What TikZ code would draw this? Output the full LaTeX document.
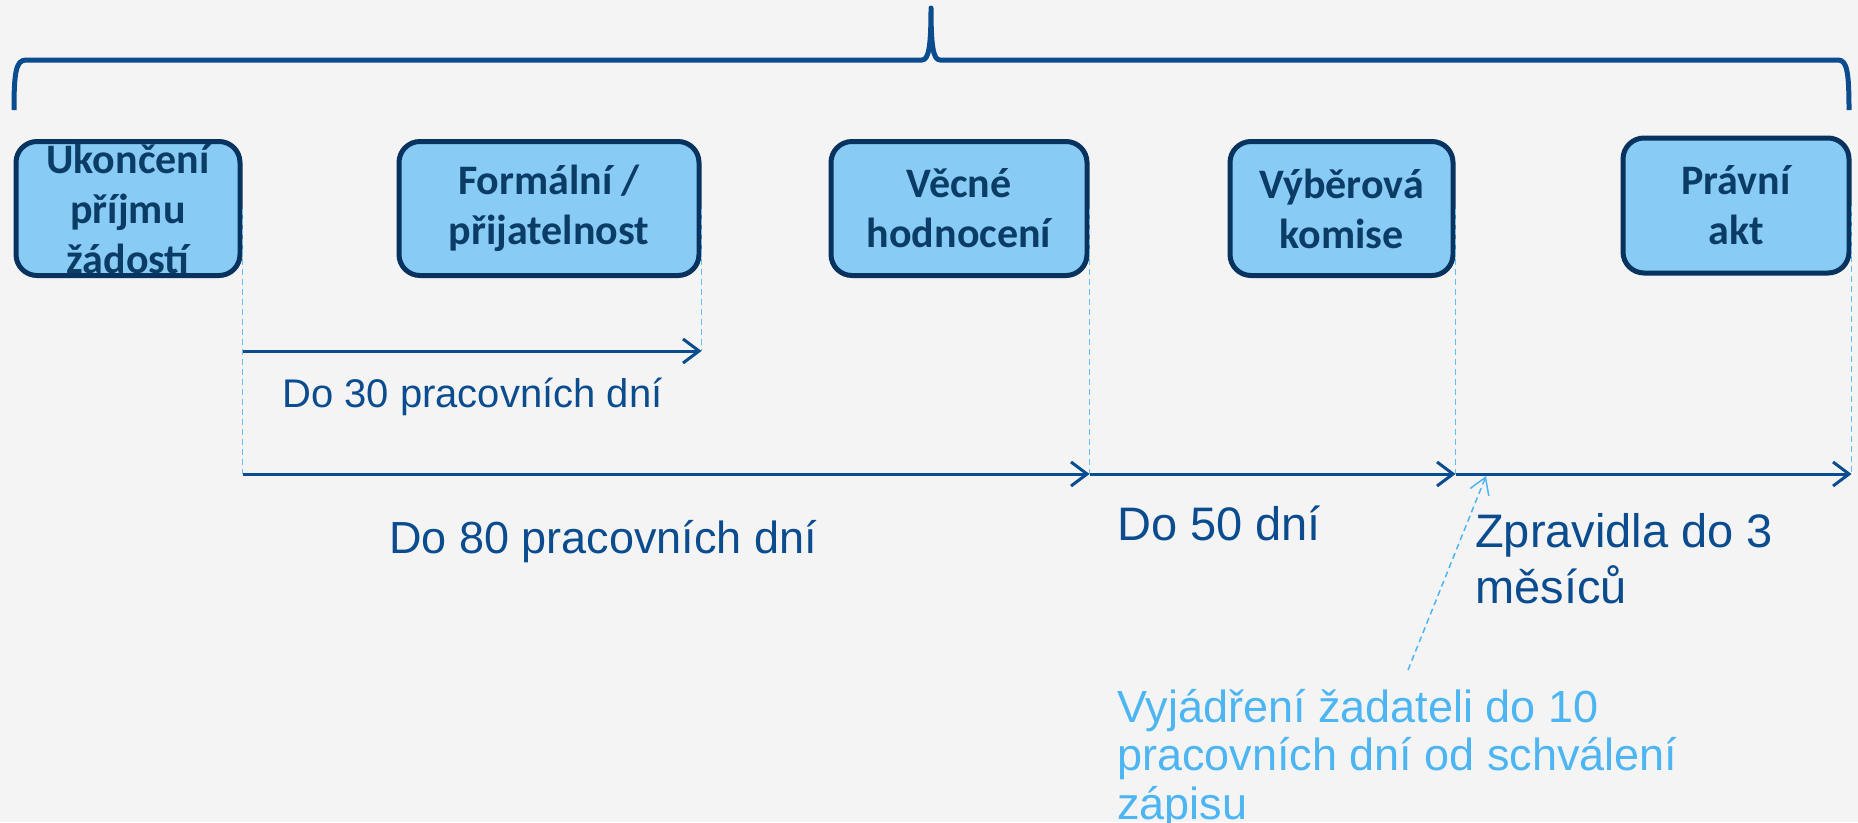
\documentclass[tikz,border=0pt]{standalone}
\usepackage{fontspec}
\setmainfont{Liberation Sans}
\newfontfamily\boxfont{Carlito}
\usetikzlibrary{arrows.meta,calc}
\definecolor{navy}{HTML}{0B4C8F}
\definecolor{boxline}{HTML}{08335F}
\definecolor{boxfill}{HTML}{88CCF6}
\definecolor{boxtext}{HTML}{0B3C66}
\definecolor{lightb}{HTML}{4DB6F2}
\definecolor{dashb}{HTML}{62BDF5}
\definecolor{bg}{HTML}{F4F4F4}
\begin{document}
\begin{tikzpicture}[x=1pt,y=-1pt,
  stepbox/.style={draw=boxline,fill=boxfill,line width=5pt,rounded corners=21pt,
    inner sep=0pt,align=center,text=boxtext,
    font=\boxfont\bfseries\fontsize{42}{50}\selectfont},
  guide/.style={draw=dashb,line width=1.5pt,dash pattern=on 6pt off 4pt},
  span/.style={draw=navy,line width=3pt,-{Straight Barb[length=16pt,width=24pt,line width=3pt]}},
  lbl/.style={inner sep=0pt,anchor=base west,text=navy,align=left},
  brace/.style={draw=navy,line width=5pt,line join=round}
]
\fill[bg] (0,0) rectangle (1858,822);
\useasboundingbox (0,0) rectangle (1858,822);

% brace
\draw[brace] (14,110) .. controls (14,72) and (16,60) .. (26,60)
  -- (922,60) .. controls (929,60) and (931,45) .. (931,8)
  .. controls (931,45) and (933,60) .. (940,60)
  -- (1838,60) .. controls (1847,60) and (1849,72) .. (1849,110);

% boxes
\node[stepbox,minimum width=224pt,minimum height=134pt] (B1) at (128,208.5) {Ukončení\\příjmu\\žádostí};
\node[stepbox,minimum width=300pt,minimum height=134pt] (B2) at (549,208.5) {Formální /\\přijatelnost};
\node[stepbox,minimum width=256pt,minimum height=134pt] (B3) at (959,208.5) {Věcné\\hodnocení};
\node[stepbox,minimum width=223pt,minimum height=134pt] (B4) at (1341.5,208.5) {Výběrová\\komise};
\node[stepbox,minimum width=226pt,minimum height=135pt] (B5) at (1736,205.5) {Právní\\akt};

% guide coordinates
\coordinate (g1a) at (B1.east |- 0,351);
\coordinate (g2a) at (B2.east |- 0,351);
\coordinate (g1) at (B1.east |- 0,474);
\coordinate (g3) at (B3.east |- 0,474);
\coordinate (g4) at (B4.east |- 0,474);
\coordinate (g5) at (B5.east |- 0,474);

\draw[guide] (B1.east) -- (g1);
\draw[guide] (B2.east) -- (g2a);
\draw[guide] (B3.east) -- (g3);
\draw[guide] (B4.east) -- (g4);
\draw[guide] (B5.east) -- (g5);

% spans
\draw[span] (g1a) -- (g2a);
\draw[span] (g1) -- (g3);
\draw[span] (g3) -- (g4);
\draw[span] (g4) -- (g5);

% labels
\node[lbl,font=\fontsize{40}{48}\selectfont] (L30) at (282,407) {Do 30 pracovních dní};
\node[lbl,font=\fontsize{45}{56}\selectfont] (L80) at (389,553) {Do 80 pracovních dní};
\node[lbl,font=\fontsize{47}{56}\selectfont] (L50) at (1117,540) {Do 50 dní};
\node[lbl,font=\fontsize{47}{56}\selectfont] (L3) at (1475,603) {Zpravidla do 3\\měsíců};
\node[lbl,text=lightb,font=\fontsize{45}{48.5}\selectfont] (LV) at (1117,819) {Vyjádření žadateli do 10\\pracovních dní od schválení\\zápisu};

% leader
\coordinate (lv0) at (1408,670);
\coordinate (lv1) at (1486,476);
\draw[draw=lightb,line width=1.5pt,dash pattern=on 6pt off 4pt,-{Straight Barb[length=16pt,width=20pt,line width=1.5pt]}] (lv0) -- (lv1);
\end{tikzpicture}
\end{document}
